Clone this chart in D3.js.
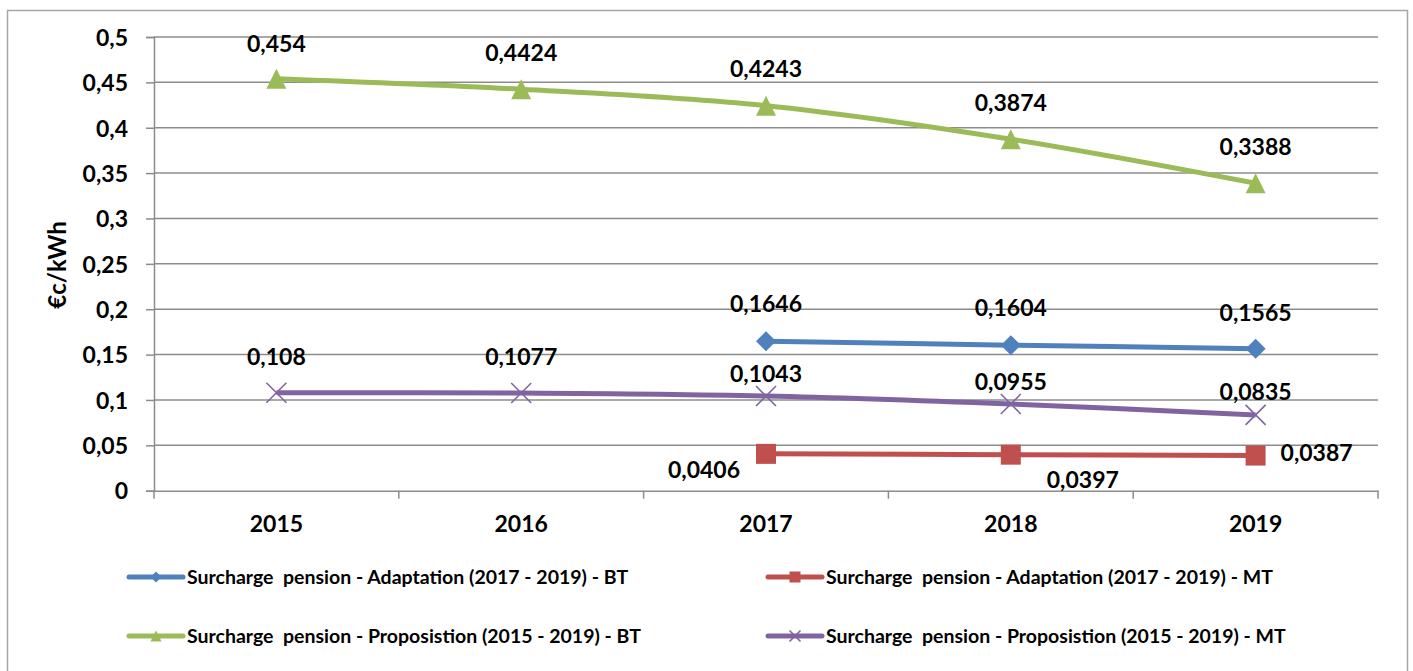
<!DOCTYPE html>
<html>
<head>
<meta charset="utf-8">
<script src="https://cdn.jsdelivr.net/npm/d3@7"></script>
<style>
  body { margin: 0; background: #fff; }
  text { font-family: Lato, "Open Sans", sans-serif; font-weight: bold; fill: #000; }
  .legend-label { white-space: pre; }
</style>
</head>
<body>
<div id="chart"></div>
<script>
// chart data
const years = ["2015", "2016", "2017", "2018", "2019"];
const adaptBT = [null, null, 0.1646, 0.1604, 0.1565];
const adaptMT = [null, null, 0.0406, 0.0397, 0.0387];
const propBT = [0.454, 0.4424, 0.4243, 0.3874, 0.3388];
const propMT = [0.108, 0.1077, 0.1043, 0.0955, 0.0835];
const yTicks = [0, 0.05, 0.1, 0.15, 0.2, 0.25, 0.3, 0.35, 0.4, 0.45, 0.5];
const seriesNames = [
    "Surcharge  pension - Adaptation (2017 - 2019) - BT",
    "Surcharge  pension - Adaptation (2017 - 2019) - MT",
    "Surcharge  pension - Proposistion (2015 - 2019) - BT",
    "Surcharge  pension - Proposistion (2015 - 2019) - MT"
];

const WIDTH = 1413, HEIGHT = 671;
const fmt = v => String(v).replace(".", ",");

const series = [
    { name: seriesNames[0], values: adaptBT, color: "#4F81BD", marker: "diamond" },
    { name: seriesNames[1], values: adaptMT, color: "#C0504D", marker: "square" },
    { name: seriesNames[2], values: propBT, color: "#9BBB59", marker: "triangle" },
    { name: seriesNames[3], values: propMT, color: "#8064A2", marker: "cross" }
];

// label placement (offsets from the point, baseline) - mirrors manual placement in the original
const labelOffsets = [
    [[0, -28], [0, -28], [0, -29], [0, -29], [0, -28]],
    [[0, 0], [0, 0], [-62, 24], [72, 33], [61, 5]],
    [[0, -27], [0, -28], [0, -29], [0, -28], [0, -28]],
    [[0, -28], [0, -28], [0, -14], [0, -14], [0, -15]]
];

const svg = d3.select("#chart").append("svg")
    .attr("width", WIDTH)
    .attr("height", HEIGHT);

// outer frame
svg.append("rect")
    .attr("x", 7.5).attr("y", 10.5)
    .attr("width", 1400).attr("height", 680)
    .attr("fill", "#fff")
    .attr("stroke", "#a6a6a6")
    .attr("stroke-width", 1.5);

const plot = { left: 154, right: 1378, top: 37, bottom: 490.7 };

const x = d3.scaleBand().domain(years).range([plot.left, plot.right]);
const y = d3.scaleLinear().domain([0, 0.5]).range([plot.bottom, plot.top]);
const cx = d => x(d) + x.bandwidth() / 2;

// gridlines
svg.append("g")
    .selectAll("line")
    .data(yTicks.filter(t => t > 0))
    .join("line")
    .attr("x1", plot.left).attr("x2", plot.right)
    .attr("y1", d => y(d)).attr("y2", d => y(d))
    .attr("stroke", "#8c8c8c")
    .attr("stroke-width", 1.5);

// y axis
const yAxis = svg.append("g")
    .attr("transform", `translate(${plot.left},0)`)
    .call(d3.axisLeft(y).tickValues(yTicks).tickSize(8).tickPadding(18).tickFormat(fmt));
yAxis.select(".domain").attr("stroke", "#8c8c8c").attr("stroke-width", 1.5);
yAxis.selectAll(".tick line").attr("stroke", "#8c8c8c").attr("stroke-width", 1.5);
yAxis.selectAll(".tick text")
    .attr("font-size", 23).attr("font-family", "Lato").attr("font-weight", "bold")
    .attr("dy", "0.36em");

// x axis
const xAxis = svg.append("g")
    .attr("transform", `translate(0,${plot.bottom})`)
    .call(d3.axisBottom(x).tickSize(0).tickPadding(25));
xAxis.select(".domain").attr("stroke", "#8c8c8c").attr("stroke-width", 1.5);
xAxis.selectAll(".tick text")
    .attr("font-size", 23).attr("font-family", "Lato").attr("font-weight", "bold");

// category separators hang below the axis
svg.append("g")
    .selectAll("line")
    .data(years.map(d => x(d)).concat([plot.right]))
    .join("line")
    .attr("x1", d => d).attr("x2", d => d)
    .attr("y1", plot.bottom).attr("y2", plot.bottom + 8)
    .attr("stroke", "#8c8c8c")
    .attr("stroke-width", 1.5);

// y axis title
svg.append("text")
    .attr("transform", "translate(66,265) rotate(-90)")
    .attr("text-anchor", "middle")
    .attr("font-size", 24)
    .text("€c/kWh");

// marker drawing
function drawMarker(g, type, color, size) {
    const s = size / 2;
    if (type === "diamond") {
        g.append("path").attr("d", `M0,${-s}L${s},0L0,${s}L${-s},0Z`).attr("fill", color);
    } else if (type === "square") {
        g.append("rect").attr("x", -s).attr("y", -s).attr("width", size).attr("height", size).attr("fill", color);
    } else if (type === "triangle") {
        g.append("path").attr("d", `M0,${-s}L${s},${s}L${-s},${s}Z`).attr("fill", color);
    } else {
        g.append("path").attr("d", `M${-s},${-s}L${s},${s}M${-s},${s}L${s},${-s}`)
            .attr("stroke", color).attr("stroke-width", 1.6).attr("fill", "none");
    }
}

const line = d3.line()
    .defined(d => d.v != null)
    .x(d => cx(d.year))
    .y(d => y(d.v))
    .curve(d3.curveCardinal.tension(0));

series.forEach((s, si) => {
    const pts = s.values.map((v, i) => ({ year: years[i], v, i }));
    svg.append("path")
        .datum(pts)
        .attr("d", line)
        .attr("fill", "none")
        .attr("stroke", s.color)
        .attr("stroke-width", 5)
        .attr("stroke-linejoin", "round");

    pts.filter(p => p.v != null).forEach(p => {
        const g = svg.append("g").attr("transform", `translate(${cx(p.year)},${y(p.v)})`);
        drawMarker(g, s.marker, s.color, 20);
    });
});

// data labels on top
series.forEach((s, si) => {
    s.values.forEach((v, i) => {
        if (v == null) return;
        const [dx, dy] = labelOffsets[si][i];
        svg.append("text")
            .attr("x", cx(years[i]) + dx)
            .attr("y", y(v) + dy)
            .attr("text-anchor", "middle")
            .attr("font-size", 23)
            .text(fmt(v));
    });
});

// legend (2 x 2)
const legendPos = [[129, 577], [768, 577], [129, 636], [768, 636]];
series.forEach((s, si) => {
    const [lx, ly] = legendPos[si];
    const g = svg.append("g").attr("transform", `translate(${lx},${ly})`);
    g.append("line")
        .attr("x1", 0).attr("x2", 54)
        .attr("stroke", s.color).attr("stroke-width", 5)
        .attr("stroke-linecap", "round");
    drawMarker(g.append("g").attr("transform", "translate(27,0)"), s.marker, s.color, 11);
    g.append("text")
        .attr("class", "legend-label")
        .attr("x", 58)
        .attr("y", 6.5)
        .attr("font-size", 19.5)
        .text(s.name);
});
</script>
</body>
</html>
